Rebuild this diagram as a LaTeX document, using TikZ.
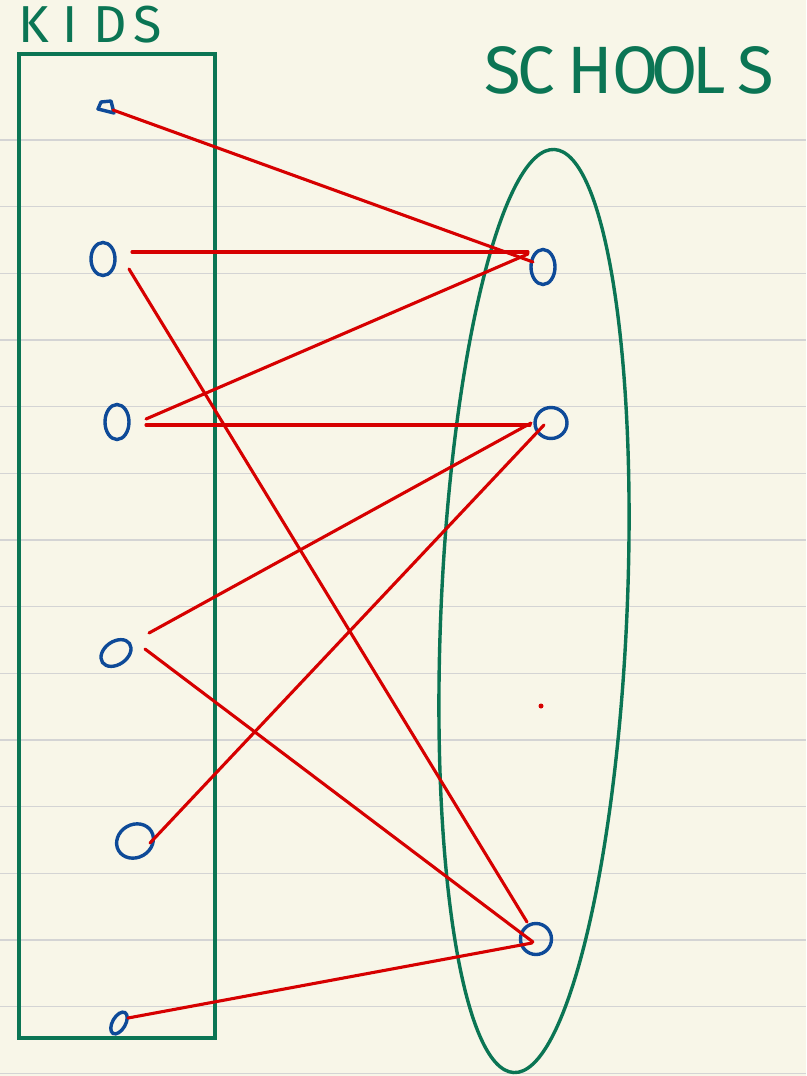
\documentclass[tikz,border=0pt]{standalone}
\usepackage{fontspec}
\setmainfont{Fira Sans}
\usetikzlibrary{shapes.geometric}
\definecolor{paper}{RGB}{248,246,232}
\definecolor{rulegray}{RGB}{212,212,212}
\definecolor{ink}{RGB}{11,117,84}
\definecolor{kidblue}{RGB}{14,74,152}
\definecolor{link}{RGB}{214,0,0}
\begin{document}
\begin{tikzpicture}[x=1pt,y=-1pt,
  dot/.style={draw=kidblue, line width=3.4pt, ellipse, inner sep=0pt},
  edge/.style={draw=link, line width=3.1pt, line cap=round},
  frame/.style={draw=ink, line width=3.4pt},
  title/.style={text=ink, inner sep=0pt, anchor=base west}]
\fill[paper] (0,0) rectangle (806,1076);
\useasboundingbox (0,0) rectangle (806,1076);
\foreach \k in {0,...,14} \draw[rulegray, line width=1.5pt] (0,140+66.667*\k) -- (806,140+66.667*\k);
% titles
\node[title, font=\fontsize{52}{52}\selectfont] (kidsT) at (18,42) {K\kern14pt I\kern15pt D\kern7pt S};
\node[title, font=\fontsize{67}{67}\selectfont] (schoolsT) at (484,93) {S\kern-3pt C\kern12pt H\kern0pt O\kern-8pt O\kern-5pt L\kern12pt S};
% kids box and school set
\draw[frame] (19,54) rectangle (215,1038);
\draw[frame, rotate around={-2.5:(534,611)}] (534,611) ellipse [x radius=93, y radius=462];
% kids
\coordinate (k1) at (106,107);
\draw[kidblue, line width=3.4pt, line join=round] ([shift={(-5,-5)}]k1) -- ([shift={(5,-6)}]k1) -- ([shift={(8,6)}]k1) -- ([shift={(-8,2)}]k1) -- cycle;
\node[dot, minimum width=24pt, minimum height=33pt] (k2) at (103,259) {};
\node[dot, minimum width=24pt, minimum height=35pt] (k3) at (117,422) {};
\node[dot, minimum width=33pt, minimum height=23pt, rotate=35] (k4) at (116,653) {};
\node[dot, minimum width=38pt, minimum height=33pt, rotate=30] (k5) at (135,841) {};
\node[dot, minimum width=13pt, minimum height=24pt, rotate=-30] (k6) at (119,1023) {};
% schools
\node[dot, minimum width=24pt, minimum height=35pt] (s1) at (543,267) {};
\node[dot, minimum width=32pt, minimum height=31pt] (s2) at (551,423) {};
\node[dot, minimum width=31pt, minimum height=31pt] (s3) at (536,939) {};
\fill[link] (541,706) circle (2.5);
% links
\draw[edge] ([shift={(7,3)}]k1) -- ([shift={(-10,-5)}]s1.center);
\draw[edge] ([shift={(29,-7)}]k2.center) -- ([shift={(-15,-15)}]s1.center);
\draw[edge] ([shift={(29,-3)}]k3.center) -- ([shift={(-15,-13)}]s1.center);
\draw[edge] ([shift={(26,10)}]k2.center) -- ([shift={(-9,-17)}]s3.center);
\draw[edge] ([shift={(29,3)}]k3.center) -- ([shift={(-21,2)}]s2.center);
\draw[edge] ([shift={(33,-20)}]k4.center) -- ([shift={(-20,0)}]s2.center);
\draw[edge] ([shift={(29,-4)}]k4.center) -- ([shift={(-3,3)}]s3.center);
\draw[edge] ([shift={(15,2)}]k5.center) -- ([shift={(-7,2)}]s2.center);
\draw[edge] ([shift={(9,-5)}]k6.center) -- ([shift={(-4,4)}]s3.center);
\end{tikzpicture}
\end{document}
